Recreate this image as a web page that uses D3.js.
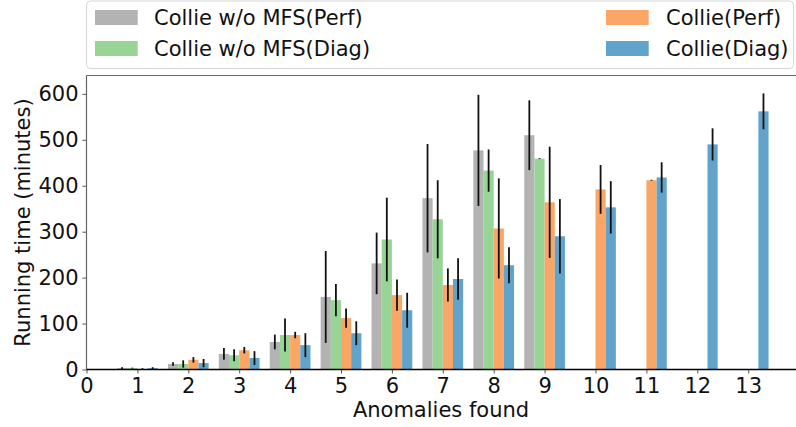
<!DOCTYPE html>
<html>
<head>
<meta charset="utf-8">
<script src="https://cdn.jsdelivr.net/npm/d3@7"></script>
<style>
  html, body { margin: 0; padding: 0; background: #fff; }
  svg { display: block; font-family: "DejaVu Sans", sans-serif; }
</style>
</head>
<body>
<svg id="chart" width="796" height="427"></svg>
<script>
// Anomaly counts on the x axis
const anomalies = [1, 2, 3, 4, 5, 6, 7, 8, 9, 10, 11, 12, 13];

// Mean running time (minutes) and error for each configuration
const seriesNames = ["Collie w/o MFS(Perf)", "Collie w/o MFS(Diag)", "Collie(Perf)", "Collie(Diag)"];
const woMfsPerf    = [3, 12, 34, 60, 158, 231, 373, 477, 510, 0, 0, 0, 0];
const woMfsPerfErr = [2, 4, 13, 16, 100, 67, 118, 121, 76, 0, 0, 0, 0];
const woMfsDiag    = [3, 12, 31, 75, 151, 283, 327, 433, 459, 0, 0, 0, 0];
const woMfsDiagErr = [1, 8, 13, 36, 35, 91, 85, 46, 1, 0, 0, 0, 0];
const colliePerf    = [1, 21, 42, 75, 112, 162, 184, 307, 364, 392, 412, 0, 0];
const colliePerfErr = [2, 6, 7, 7, 21, 34, 36, 109, 121, 53, 1, 0, 0];
const collieDiag    = [3, 14, 25, 53, 79, 129, 197, 227, 290, 353, 418, 490, 562];
const collieDiagErr = [2, 9, 15, 26, 26, 38, 45, 39, 81, 57, 33, 35, 39];

const xTicks = [0, 1, 2, 3, 4, 5, 6, 7, 8, 9, 10, 11, 12, 13];
const yTicks = [0, 100, 200, 300, 400, 500, 600];

const colors = ["#b3b3b3", "#98d496", "#f9a666", "#62a3cc"];
const values = [woMfsPerf, woMfsDiag, colliePerf, collieDiag];
const errors = [woMfsPerfErr, woMfsDiagErr, colliePerfErr, collieDiagErr];

const svg = d3.select("#chart");
const fontSize = 21;

const plotLeft = 86.5, plotTop = 75.5, plotBottom = 369.5;
const x = d3.scaleLinear().domain([0, 14]).range([plotLeft, plotLeft + 14 * 50.9]);
const y = d3.scaleLinear().domain([0, 640]).range([plotBottom, plotTop]);
const barW = 0.2;

// Bars, four per anomaly count
values.forEach((vals, s) => {
  const offset = -0.4 + s * barW;
  svg.append("g").selectAll("rect")
    .data(anomalies.map((a, i) => ({ a, v: vals[i] })).filter(d => d.v > 0))
    .enter().append("rect")
    .attr("x", d => x(d.a + offset))
    .attr("width", d => x(d.a + offset + barW) - x(d.a + offset))
    .attr("y", d => y(d.v))
    .attr("height", d => y(0) - y(d.v))
    .attr("fill", colors[s]);
});

// Error bars
values.forEach((vals, s) => {
  const offset = -0.4 + s * barW;
  svg.append("g").selectAll("line")
    .data(anomalies.map((a, i) => ({ a, v: vals[i], e: errors[s][i] })).filter(d => d.e > 0))
    .enter().append("line")
    .attr("x1", d => x(d.a + offset + barW / 2))
    .attr("x2", d => x(d.a + offset + barW / 2))
    .attr("y1", d => y(Math.max(0, d.v - d.e)))
    .attr("y2", d => y(d.v + d.e))
    .attr("stroke", "#111")
    .attr("stroke-width", 1.8);
});

// Axes
const yAxis = svg.append("g")
  .attr("transform", `translate(${plotLeft},0)`)
  .call(d3.axisLeft(y).tickValues(yTicks).tickSize(4).tickPadding(4).tickFormat(d3.format("d")));
yAxis.select(".domain").remove();
yAxis.selectAll(".tick line").attr("stroke", "#555");
yAxis.selectAll(".tick text").attr("font-size", fontSize).attr("fill", "#111")
  .attr("font-family", "DejaVu Sans");

const xAxis = svg.append("g")
  .attr("transform", `translate(0,${plotBottom})`)
  .call(d3.axisBottom(x).tickValues(xTicks).tickSize(4).tickPadding(5).tickFormat(d3.format("d")));
xAxis.select(".domain").remove();
xAxis.selectAll(".tick line").attr("stroke", "#555");
xAxis.selectAll(".tick text").attr("font-size", fontSize).attr("fill", "#111")
  .attr("font-family", "DejaVu Sans");

// Spines
svg.append("line").attr("x1", plotLeft).attr("x2", plotLeft)
  .attr("y1", plotTop).attr("y2", plotBottom)
  .attr("stroke", "#666").attr("stroke-width", 1.2);
svg.append("line").attr("x1", plotLeft).attr("x2", 796)
  .attr("y1", plotTop).attr("y2", plotTop)
  .attr("stroke", "#666").attr("stroke-width", 1.2);
svg.append("line").attr("x1", plotLeft).attr("x2", 796)
  .attr("y1", plotBottom).attr("y2", plotBottom)
  .attr("stroke", "#000").attr("stroke-width", 1.4);

// Axis titles
svg.append("text")
  .attr("transform", `translate(30,${(plotTop + plotBottom) / 2}) rotate(-90)`)
  .attr("text-anchor", "middle")
  .attr("font-size", fontSize).attr("fill", "#111")
  .text("Running time (minutes)");
svg.append("text")
  .attr("x", 441).attr("y", 417)
  .attr("text-anchor", "middle")
  .attr("font-size", fontSize).attr("fill", "#111")
  .text("Anomalies found");

// Legend
const legend = svg.append("g");
legend.append("rect")
  .attr("x", 86.5).attr("y", 1).attr("width", 707).attr("height", 67.5)
  .attr("rx", 4).attr("fill", "#fff").attr("fill-opacity", 0.9)
  .attr("stroke", "#d6d6d6").attr("stroke-width", 1);
const legendPos = [
  { px: 95, tx: 154, cy: 17.5 },
  { px: 95, tx: 154, cy: 48.5 },
  { px: 606, tx: 666, cy: 17.5 },
  { px: 606, tx: 666, cy: 48.5 }
];
seriesNames.forEach((name, s) => {
  const p = legendPos[s];
  legend.append("rect")
    .attr("x", p.px).attr("y", p.cy - 7.5).attr("width", 42.7).attr("height", 15)
    .attr("fill", colors[s]);
  legend.append("text")
    .attr("x", p.tx).attr("y", p.cy).attr("dy", "0.36em")
    .attr("font-size", fontSize).attr("fill", "#111")
    .text(name);
});
</script>
</body>
</html>
